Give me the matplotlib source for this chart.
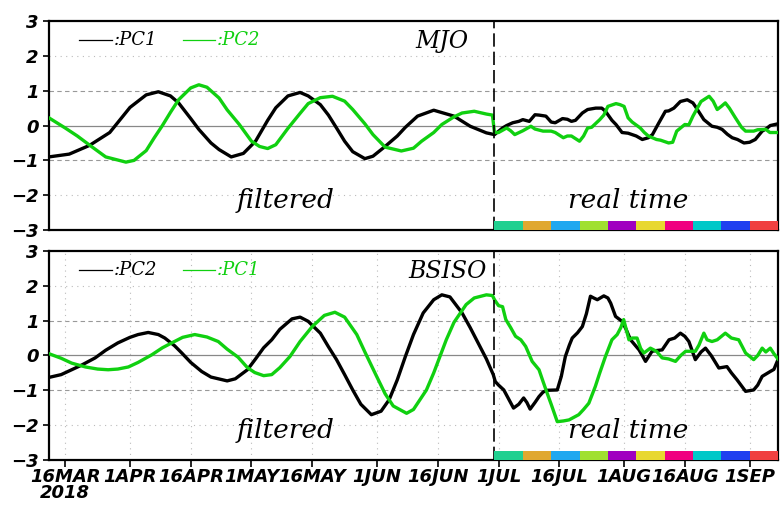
import numpy as np
import matplotlib
matplotlib.use("Agg")
import matplotlib.pyplot as plt

# day 0 = 12 MAR 2018
base = np.datetime64('2018-03-12')

tick_dates = ['2018-03-16', '2018-04-01', '2018-04-16', '2018-05-01', '2018-05-16', '2018-06-01',
              '2018-06-16', '2018-07-01', '2018-07-16', '2018-08-01', '2018-08-16', '2018-09-01']
tick_labels = ['16MAR\n2018', '1APR', '16APR', '1MAY', '16MAY', '1JUN',
               '16JUN', '1JUL', '16JUL', '1AUG', '16AUG', '1SEP']

split_day = 110

# MJO
mjo_pc1_days = [0, 5, 10, 15, 20, 24, 27, 30, 32, 35, 37, 40, 42, 45, 48, 51, 54, 56, 59, 62, 64, 67, 69, 71,
                73, 75, 78, 80, 83, 86, 88, 91, 95, 100, 104, 108, 110,
                112, 113, 114.5, 116, 117, 118.6, 120, 121, 122.7, 124, 125, 126.8, 128, 129, 130, 131.7, 133,
                135, 136.5, 137.4, 139, 140, 141.5, 143, 144, 145, 146.5, 148, 149, 150.6, 152.2, 153, 154.3,
                155.9, 157.6, 159, 159.6, 161.7, 163.7, 165, 166.2, 167.5, 168.7, 170, 171.6, 173, 174.4,
                176.1, 177, 178.1, 180]
mjo_pc1 = [-0.90, -0.82, -0.57, -0.2, 0.52, 0.88, 0.97, 0.85, 0.65, 0.2, -0.11, -0.5, -0.69, -0.90, -0.8,
           -0.45, 0.15, 0.51, 0.85, 0.95, 0.85, 0.6, 0.3, -0.07, -0.45, -0.75, -0.95, -0.88, -0.6, -0.3,
           -0.05, 0.27, 0.44, 0.27, -0.02, -0.21, -0.26,
           -0.07, 0.0, 0.08, 0.12, 0.17, 0.12, 0.31, 0.3, 0.27, 0.1, 0.08, 0.2, 0.18, 0.12, 0.15, 0.36, 0.46,
           0.5, 0.5, 0.41, 0.15, 0.03, -0.2, -0.22, -0.26, -0.3, -0.4, -0.35, -0.26, 0.08, 0.41, 0.42, 0.5,
           0.69, 0.74, 0.65, 0.55, 0.17, -0.02, -0.05, -0.11, -0.25, -0.35, -0.4, -0.5, -0.48, -0.4,
           -0.16, -0.1, 0.0, 0.05]

mjo_pc2_days = [0, 4, 7, 10, 14, 19, 21, 24, 26, 28, 30, 32, 35, 37, 39, 42, 44, 47, 50, 52, 54, 56, 59, 62,
                64, 67, 70, 73, 75, 78, 80, 83, 87, 90, 92, 95, 97, 100, 102, 105, 108, 109.5,
                110, 111, 113, 114, 115, 117, 119, 120, 122, 124, 125, 127, 128, 129, 131, 132, 133, 134, 136,
                137, 138, 140, 141, 142, 143, 144, 146, 147, 148, 150, 151, 153, 154, 155, 157, 158, 159, 161,
                163, 164, 165, 166, 167, 168, 169.5, 171, 172, 174, 175, 177, 178, 180]
mjo_pc2 = [0.22, -0.07, -0.3, -0.56, -0.9, -1.05, -1.0, -0.72, -0.35, 0.0, 0.38, 0.74, 1.08, 1.17, 1.1,
           0.79, 0.45, 0.03, -0.45, -0.6, -0.66, -0.55, -0.08, 0.35, 0.63, 0.8, 0.84, 0.7, 0.46, 0.05,
           -0.26, -0.62, -0.73, -0.65, -0.45, -0.2, 0.03, 0.25, 0.36, 0.41, 0.33, 0.3,
           -0.2, -0.2, -0.07, -0.15, -0.26, -0.15, -0.02, -0.1, -0.16, -0.16, -0.2, -0.35, -0.3, -0.3,
           -0.45, -0.3, -0.07, -0.05, 0.17, 0.3, 0.55, 0.63, 0.6, 0.55, 0.22, 0.1, -0.07, -0.2, -0.3,
           -0.4, -0.42, -0.5, -0.48, -0.16, 0.03, 0.02, 0.27, 0.69, 0.84, 0.7, 0.46, 0.55, 0.65, 0.5,
           0.22, -0.05, -0.16, -0.16, -0.12, -0.11, -0.2, -0.2]

# BSISO
bsiso_pc2_days = [0, 3, 5.6, 8, 11.4, 14, 17, 20, 22, 24.5, 27, 28.6, 31, 32.8, 35, 37.7, 40, 44, 46, 49,
                  51, 53, 55, 57, 60, 62, 64, 67, 69, 71, 73, 75, 77, 79.6, 82, 84, 86, 88, 90, 92.4, 95,
                  97, 99, 102, 104, 106.4, 108, 109.7,
                  110.2, 111, 112.3, 113.5, 114.7, 116, 117.2, 118, 118.8, 120, 121, 122, 123, 125.5, 126.5,
                  127.5, 128.5, 129.2, 130.5, 131.7, 132.7, 133.7, 134.5, 135.4, 137, 138, 138.7, 139.9,
                  141.5, 142.5, 143.6, 145.7, 146.5, 147.3, 148.9, 150, 151.4, 153.1, 154.5, 155.9, 157,
                  158, 159.6, 161, 162.1, 163.5, 165.4, 167.4, 168.5, 169.9, 172, 174, 175, 176.1, 178.1,
                  179, 180]
bsiso_pc2 = [-0.63, -0.55, -0.41, -0.28, -0.07, 0.15, 0.36, 0.52, 0.6, 0.66, 0.6, 0.5, 0.28, 0.07, -0.2,
             -0.46, -0.62, -0.73, -0.67, -0.41, -0.1, 0.22, 0.45, 0.75, 1.05, 1.1, 0.98, 0.64, 0.25, -0.12,
             -0.55, -0.99, -1.4, -1.7, -1.6, -1.27, -0.7, -0.03, 0.6, 1.22, 1.6, 1.74, 1.68, 1.22, 0.8,
             0.26, -0.1, -0.55,
             -0.75, -0.85, -0.99, -1.25, -1.51, -1.4, -1.22, -1.35, -1.54, -1.35, -1.18, -1.05, -1.0, -0.99,
             -0.6, -0.03, 0.3, 0.5, 0.65, 0.83, 1.2, 1.7, 1.65, 1.6, 1.71, 1.65, 1.5, 1.12, 0.98, 0.75,
             0.45, 0.16, 0.0, -0.17, 0.12, 0.14, 0.16, 0.45, 0.5, 0.64, 0.55, 0.4, -0.12, 0.1, 0.21, 0.0,
             -0.36, -0.32, -0.5, -0.7, -1.03, -0.99, -0.85, -0.6, -0.46, -0.4, -0.12]

bsiso_pc1_days = [0, 3, 5.6, 9, 12, 14.6, 17, 19.6, 22, 25.4, 28, 30.3, 33, 36, 39, 41.8, 44, 46.7, 49,
                  50.8, 53, 55, 57, 59.5, 62, 65, 68, 70.6, 73, 76, 78, 80.9, 83, 85, 88.3, 90, 93.2, 95,
                  98.1, 100, 103, 105, 108, 109.5,
                  110, 111, 112, 112.8, 114, 115.2, 116.5, 117.7, 119.3, 121, 122, 123, 124, 125.5, 127,
                  128.4, 130, 130.8, 132, 133.3, 134.9, 136, 137.4, 139, 140.3, 141.2, 141.9, 143.2, 144,
                  145.2, 146.1, 146.9, 148.5, 150, 151.4, 153, 154.7, 156, 157.2, 159.6, 160.5, 161.7, 162.5,
                  163.7, 165, 167, 168.5, 170.3, 171.2, 172, 174, 175, 176.1, 177, 178.1, 179, 180]
bsiso_pc1 = [0.05, -0.08, -0.22, -0.33, -0.39, -0.41, -0.39, -0.33, -0.2, 0.02, 0.22, 0.36, 0.52, 0.6,
             0.53, 0.4, 0.18, -0.05, -0.35, -0.49, -0.58, -0.55, -0.35, -0.03, 0.4, 0.83, 1.15, 1.24, 1.1,
             0.6, 0.1, -0.6, -1.1, -1.45, -1.66, -1.55, -0.99, -0.5, 0.45, 0.95, 1.46, 1.65, 1.74, 1.72,
             1.6, 1.43, 1.4, 1.03, 0.8, 0.55, 0.45, 0.26, -0.17, -0.41, -0.75, -1.08, -1.4, -1.9, -1.88,
             -1.85, -1.75, -1.7, -1.55, -1.37, -0.89, -0.5, -0.03, 0.45, 0.6, 0.8, 1.03, 0.45, 0.5, 0.5,
             0.2, 0.07, 0.21, 0.12, -0.07, -0.1, -0.17, 0.0, 0.12, 0.12, 0.3, 0.64, 0.45, 0.4, 0.45, 0.64,
             0.5, 0.45, 0.25, 0.07, -0.12, 0.0, 0.21, 0.1, 0.21, 0.05, -0.1]

week_colors = ['#20d090', '#e0a830', '#20a8f0', '#a0e030', '#a000c0',
               '#e8d830', '#f00080', '#00c8c8', '#2040f0', '#f04040']

green = '#10d010'
label_font = dict(family='DejaVu Sans', weight='bold', style='italic')
serif_font = dict(family='DejaVu Serif', style='italic')

fig = plt.figure(figsize=(7.8, 5.09), dpi=100)
ax1 = fig.add_axes([0.0628, 0.548, 0.9346, 0.4107])
ax2 = fig.add_axes([0.0628, 0.0963, 0.9346, 0.4107])

tick_days = [(np.datetime64(t) - base).astype(int) for t in tick_dates]

panels = [
    (ax1, mjo_pc1_days, mjo_pc1, mjo_pc2_days, mjo_pc2, ':PC1', ':PC2', 'MJO', 103.5, False),
    (ax2, bsiso_pc2_days, bsiso_pc2, bsiso_pc1_days, bsiso_pc1, ':PC2', ':PC1', 'BSISO', 108, True),
]

for ax, kd, kv, gd, gv, klab, glab, title, title_x, bottom in panels:
    ax.set_xlim(0, 180)
    ax.set_ylim(-3, 3)
    # horizontal reference lines
    ax.axhline(0, color='#888888', lw=0.9, zorder=1)
    for y in (-1, 1):
        ax.axhline(y, color='#999999', lw=0.8, ls=(0, (4, 3)), zorder=1)
    for y in (-2, 2):
        ax.axhline(y, color='#bbbbbb', lw=0.8, ls=(0, (1, 4)), zorder=1)
    if bottom:
        for d in tick_days:
            ax.axvline(d, color='#bbbbbb', lw=0.8, ls=(0, (1, 4)), zorder=1)

    ax.plot(kd, kv, color='black', lw=2.4, zorder=3)
    ax.plot(gd, gv, color=green, lw=2.4, zorder=3)
    ax.axvline(split_day, color='black', lw=1.2, ls=(0, (8, 3)), zorder=4)

    ax.bar([split_day + 7 * i for i in range(len(week_colors))], 0.26, width=7, bottom=-3,
           align='edge', color=week_colors, zorder=5)

    # legend drawn by hand
    ax.plot([7.5, 15.5], [2.45, 2.45], color='black', lw=0.9)
    ax.text(16, 2.45, klab, color='black', fontsize=13, va='center', ha='left', **serif_font)
    ax.plot([33, 41], [2.45, 2.45], color=green, lw=0.9)
    ax.text(41.5, 2.45, glab, color=green, fontsize=13, va='center', ha='left', **serif_font)

    ax.text(title_x, 2.42, title, fontsize=17, ha='right', va='center', **serif_font)
    ax.text(58.5, -2.15, 'filtered', fontsize=19, ha='center', va='center', **serif_font)
    ax.text(143, -2.15, 'real time', fontsize=19, ha='center', va='center', **serif_font)

    ax.set_yticks([-3, -2, -1, 0, 1, 2, 3])
    ax.set_yticklabels([str(v).replace('-', '\u2212') for v in [-3, -2, -1, 0, 1, 2, 3]],
                       fontsize=13, **label_font)
    for s in ax.spines.values():
        s.set_linewidth(1.6)
    ax.tick_params(axis='y', direction='out', length=4, width=1.2)
    if bottom:
        ax.set_xticks(tick_days)
        ax.set_xticklabels(tick_labels, fontsize=13, linespacing=0.85, **label_font)
        ax.tick_params(axis='x', direction='out', length=5, width=1.2, pad=1)
    else:
        ax.set_xticks([])

fig.savefig('out.png', dpi=100)
